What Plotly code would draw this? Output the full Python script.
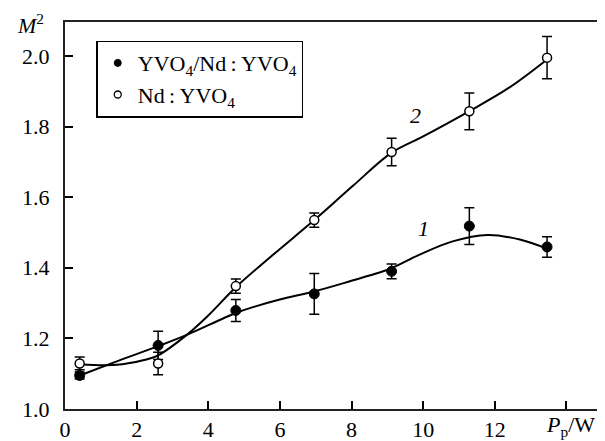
import plotly.graph_objects as go

# Measured points (pump power, W)
pump_power = [0.41, 2.6, 4.77, 6.96, 9.12, 11.29, 13.46]
m2_composite = [1.095, 1.18, 1.279, 1.326, 1.39, 1.518, 1.459]
err_composite = [0.01, 0.04, 0.031, 0.058, 0.021, 0.052, 0.029]
m2_single = [1.129, 1.129, 1.348, 1.535, 1.728, 1.843, 1.995]
err_single = [0.018, 0.032, 0.02, 0.02, 0.039, 0.052, 0.06]

# Fitted curves
curve1_x = [0.41, 1.5, 2.6, 3.4, 4.77, 5.3, 6.0, 7.0, 8.0, 8.5, 9.1, 9.9, 10.8, 11.8, 12.7, 13.46]
curve1_y = [1.095, 1.137, 1.178, 1.21, 1.272, 1.29, 1.31, 1.334, 1.363, 1.378, 1.398, 1.437, 1.474, 1.493, 1.48, 1.454]
curve2_x = [0.41, 1.1, 1.6, 2.3, 2.6, 3.4, 4.0, 4.77, 5.8, 6.96, 8.04, 9.12, 10.0, 11.28, 12.4, 13.46]
curve2_y = [1.127, 1.124, 1.127, 1.141, 1.152, 1.21, 1.265, 1.345, 1.436, 1.535, 1.632, 1.726, 1.772, 1.843, 1.91, 1.99]

x_tickvals = [0, 2, 4, 6, 8, 10, 12, 14]
x_ticktext = ["0", "2", "4", "6", "8", "10", "12", ""]
y_tickvals = [1.0, 1.2, 1.4, 1.6, 1.8, 2.0]
y_ticktext = ["1.0", "1.2", "1.4", "1.6", "1.8", "2.0"]

legend_names = ["YVO<sub>4</sub>/Nd\u2009:\u2009YVO<sub>4</sub>", "Nd\u2009:\u2009YVO<sub>4</sub>"]

FONT = "Liberation Serif"
FS = 22

fig = go.Figure()

fig.add_trace(go.Scatter(x=curve1_x, y=curve1_y, mode="lines", line=dict(color="black", width=2, shape="spline", smoothing=1.0),
                         showlegend=False, hoverinfo="skip"))
fig.add_trace(go.Scatter(x=curve2_x, y=curve2_y, mode="lines", line=dict(color="black", width=2, shape="spline", smoothing=1.0),
                         showlegend=False, hoverinfo="skip"))

fig.add_trace(go.Scatter(x=pump_power, y=m2_composite, mode="markers",
                         marker=dict(symbol="circle", size=10, color="black", line=dict(color="black", width=1)),
                         error_y=dict(type="data", array=err_composite, visible=True, color="black", thickness=1.5, width=5),
                         showlegend=False))
fig.add_trace(go.Scatter(x=pump_power, y=m2_single, mode="markers",
                         marker=dict(symbol="circle", size=9, color="white", line=dict(color="black", width=1.5)),
                         error_y=dict(type="data", array=err_single, visible=True, color="black", thickness=1.5, width=5),
                         showlegend=False))

# legend entries
fig.add_trace(go.Scatter(x=[None], y=[None], mode="markers", name=legend_names[0],
                         marker=dict(symbol="circle", size=7, color="black", line=dict(color="black", width=1))))
fig.add_trace(go.Scatter(x=[None], y=[None], mode="markers", name=legend_names[1],
                         marker=dict(symbol="circle", size=7, color="white", line=dict(color="black", width=1.3))))

fig.update_layout(
    width=605, height=441,
    margin=dict(l=57, r=7, t=14, b=29),
    paper_bgcolor="white", plot_bgcolor="white",
    font=dict(family=FONT, size=FS, color="black"),
    legend=dict(x=0.058, y=0.952, xanchor="left", yanchor="top",
                bordercolor="black", borderwidth=1.5, bgcolor="white",
                font=dict(family=FONT, size=FS, color="black"),
                itemwidth=30, tracegroupgap=0),
    xaxis=dict(range=[0, 15.05], tickvals=x_tickvals, ticktext=x_ticktext, ticks="inside", ticklen=8, tickwidth=1.5,
               tickcolor="black", showline=True, linewidth=2, linecolor="#222", mirror=True, showgrid=False,
               zeroline=False, tickfont=dict(family=FONT, size=FS, color="black")),
    yaxis=dict(range=[1.0, 2.096], tickvals=y_tickvals, ticktext=y_ticktext, ticks="inside", ticklen=8, tickwidth=1.5,
               tickcolor="black", showline=True, linewidth=2, linecolor="#222", mirror=True, showgrid=False,
               zeroline=False, tickfont=dict(family=FONT, size=FS, color="black"), ticklabelstandoff=9),
    annotations=[
        dict(x=1.0, y=0, xref="paper", yref="paper", yanchor="top", xanchor="right", xshift=-7, yshift=-1, showarrow=False,
             text="<i>P</i><sub>p</sub>/W", font=dict(family=FONT, size=FS, color="black")),
        dict(x=-0.092, y=2.09, xref="paper", yref="y", xanchor="left", yanchor="middle", showarrow=False,
             text="<i>M</i><sup>2</sup>", font=dict(family=FONT, size=FS, color="black")),
        dict(x=10.0, y=1.51, xref="x", yref="y", showarrow=False, text="<i>1</i>",
             font=dict(family=FONT, size=FS, color="black")),
        dict(x=9.8, y=1.832, xref="x", yref="y", showarrow=False, text="<i>2</i>",
             font=dict(family=FONT, size=FS, color="black")),
    ],
)

fig.write_html("out.html")
